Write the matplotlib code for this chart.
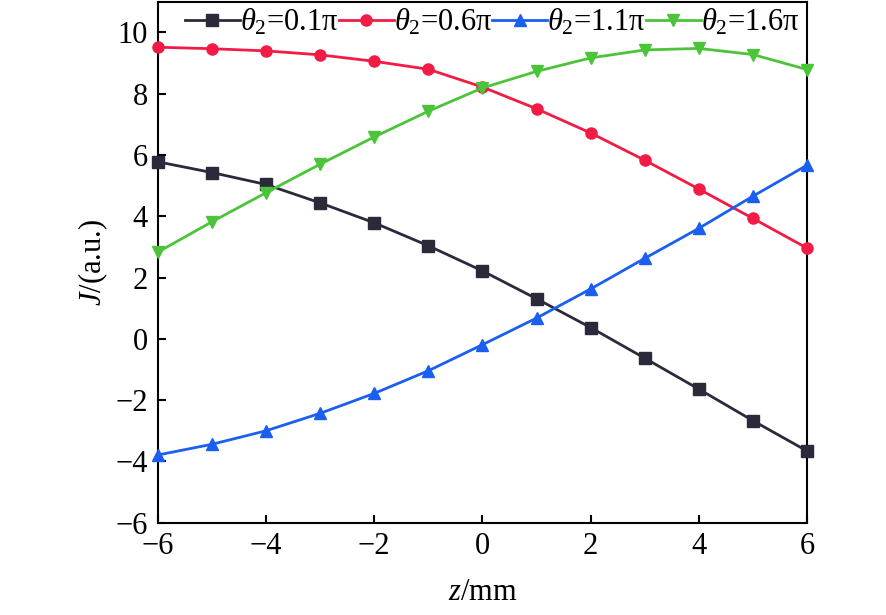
import matplotlib
matplotlib.use('Agg')
import matplotlib.pyplot as plt
import numpy as np

plt.rcParams['font.family'] = ['Liberation Serif', 'DejaVu Serif']
plt.rcParams['mathtext.fontset'] = 'custom'
plt.rcParams['mathtext.rm'] = 'Liberation Serif'
plt.rcParams['mathtext.it'] = 'Liberation Serif:style=italic'
plt.rcParams['axes.unicode_minus'] = True

# data
z = [-6, -5, -4, -3, -2, -1, 0, 1, 2, 3, 4, 5, 6]
j_01 = [5.78, 5.43, 5.04, 4.44, 3.79, 3.04, 2.22, 1.31, 0.37, -0.63, -1.64, -2.67, -3.66]
j_06 = [9.52, 9.47, 9.40, 9.27, 9.06, 8.80, 8.22, 7.51, 6.72, 5.83, 4.89, 3.93, 2.96]
j_11 = [-3.79, -3.44, -3.00, -2.43, -1.78, -1.04, -0.19, 0.68, 1.63, 2.63, 3.61, 4.66, 5.67]
j_16 = [2.83, 3.82, 4.77, 5.70, 6.59, 7.43, 8.19, 8.73, 9.17, 9.43, 9.48, 9.28, 8.79]

labels = [r'$\theta_2$=0.1π', r'$\theta_2$=0.6π', r'$\theta_2$=1.1π', r'$\theta_2$=1.6π']
colors = ['#2b2a3a', '#f21b45', '#1a5ff0', '#4cc43a']
markers = ['s', 'o', '^', 'v']

fig = plt.figure(figsize=(8.86, 6.15), dpi=100)
ax = fig.add_axes([0.178, 0.150, 0.733, 0.847])

for ys, lab, c, m in zip([j_01, j_06, j_11, j_16], labels, colors, markers):
    ax.plot(z, ys, color=c, marker=m, markersize=8, linewidth=2, label=lab, clip_on=False, zorder=3)

ax.set_xlim(-6, 6)
ax.set_ylim(-6, 11)
ax.set_xticks(np.arange(-6, 7, 2))
ax.set_yticks(np.arange(-6, 11, 2))
ax.tick_params(direction='in', length=6, width=1.5, labelsize=22, top=False, right=False, pad=7)
for s in ax.spines.values():
    s.set_linewidth(1.5)

ax.set_xlabel(r'$z$/mm', fontsize=22, labelpad=12)
ax.set_ylabel(r'$J$/(a.u.)', fontsize=22, labelpad=4)

leg = ax.legend(loc='upper center', ncol=4, frameon=False, fontsize=22,
                handlelength=1.8, handletextpad=0.0, columnspacing=0.0,
                borderaxespad=0.1, bbox_to_anchor=(0.515, 1.02))

fig.savefig('out.png', dpi=100)
